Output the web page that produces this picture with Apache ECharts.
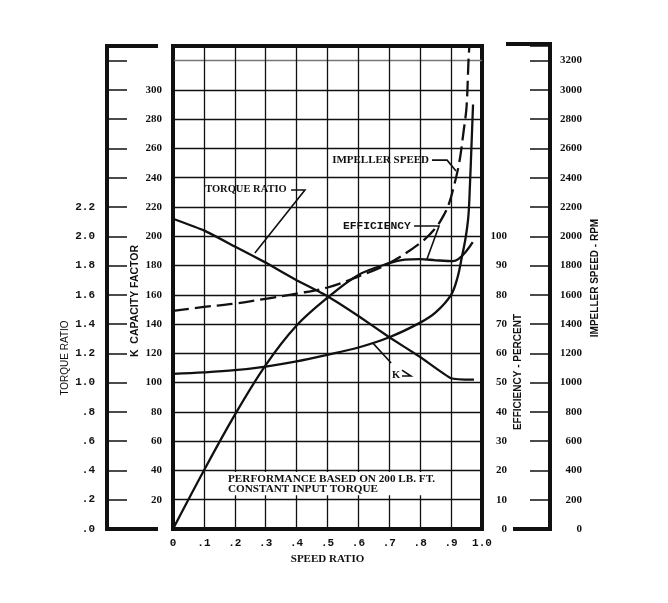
<!DOCTYPE html>
<html>
<head>
<meta charset="utf-8">
<script src="https://cdn.jsdelivr.net/npm/echarts@6/dist/echarts.min.js"></script>
<style>
html,body{margin:0;padding:0;background:#fff;}
#c{width:668px;height:603px;}
</style>
</head>
<body>
<div id="c"></div>
<script>
// ---- tick labels ----
const speedRatioLabels = ['0', '.1', '.2', '.3', '.4', '.5', '.6', '.7', '.8', '.9', '1.0'];
const torqueTickLabels = ['.0', '.2', '.4', '.6', '.8', '1.0', '1.2', '1.4', '1.6', '1.8', '2.0', '2.2'];
const kTickLabels = ['20', '40', '60', '80', '100', '120', '140', '160', '180', '200', '220', '240', '260', '280', '300'];
const effTickLabels = ['0', '10', '20', '30', '40', '50', '60', '70', '80', '90', '100'];
const rpmTickLabels = ['0', '200', '400', '600', '800', '1000', '1200', '1400', '1600', '1800', '2000', '2200', '2400', '2600', '2800', '3000', '3200'];

// ---- series values: [speed ratio, value] ----
const torqueRatio = [[0, 2.12], [0.1, 2.04], [0.2, 1.93], [0.3, 1.82], [0.4, 1.70], [0.5, 1.59], [0.6, 1.455], [0.7, 1.31], [0.8, 1.175], [0.9, 1.03], [0.974, 1.02]];
const kCapacity = [[0, 106], [0.1, 107], [0.2, 108.5], [0.3, 111], [0.4, 114.5], [0.5, 119], [0.6, 124], [0.7, 131], [0.8, 141], [0.85, 148], [0.9, 160], [0.921, 172], [0.935, 186], [0.947, 199], [0.956, 214], [0.961, 235], [0.966, 262], [0.971, 290]];
const efficiency = [[0, 0], [0.1, 20], [0.2, 39], [0.3, 56], [0.4, 69.5], [0.5, 79], [0.6, 86.8], [0.7, 90.8], [0.75, 92], [0.8, 92.2], [0.85, 91.8], [0.906, 91.5], [0.97, 98]];
const impellerSpeed = [[0, 1490], [0.1, 1517], [0.2, 1540], [0.3, 1573], [0.4, 1608], [0.5, 1650], [0.6, 1725], [0.7, 1817], [0.8, 1954], [0.85, 2057], [0.88, 2159], [0.894, 2228], [0.906, 2316], [0.926, 2499], [0.941, 2726], [0.95, 2884], [0.956, 3184], [0.959, 3300]];

const INK = '#111';
const gridLineColors = [];
for (let i = 0; i < 17; i++) gridLineColors.push(i === 16 ? '#777' : INK);

const option = {
  animation: false,
  backgroundColor: '#fff',
  grid: { left: 173, right: 186, top: 46, bottom: 74, show: true, borderColor: INK, borderWidth: 4, backgroundColor: 'transparent' },
  xAxis: {
    type: 'value', min: 0, max: 1, interval: 0.1,
    axisLine: { show: false }, axisTick: { show: false },
    splitLine: { show: true, lineStyle: { color: INK, width: 1.3 } },
    axisLabel: {
      margin: 9, color: INK, fontFamily: 'Liberation Mono', fontWeight: 'bold', fontSize: 11,
      formatter: v => speedRatioLabels[Math.round(v * 10)] || ''
    },
    name: 'SPEED RATIO', nameLocation: 'middle', nameGap: 23,
    nameTextStyle: { color: INK, fontFamily: 'Liberation Serif', fontWeight: 'bold', fontSize: 11 }
  },
  yAxis: [
    { // K capacity factor
      type: 'value', min: 0, max: 330, interval: 20, position: 'left',
      axisLine: { show: false }, axisTick: { show: false },
      splitLine: { show: true, lineStyle: { color: gridLineColors, width: 1.3 } },
      axisLabel: {
        margin: 11, color: INK, fontFamily: 'Liberation Serif', fontWeight: 'bold', fontSize: 11,
        formatter: v => kTickLabels[Math.round(v / 20) - 1] || ''
      }
    },
    { // torque ratio
      type: 'value', min: 0, max: 3.3, interval: 0.2, position: 'left', offset: 66,
      axisLine: { show: true, lineStyle: { color: INK, width: 4 } },
      axisTick: { show: true, inside: true, length: 20, lineStyle: { color: INK, width: 1.5 } },
      splitLine: { show: false },
      axisLabel: {
        margin: 12, color: INK, fontFamily: 'Liberation Mono', fontWeight: 'bold', fontSize: 11,
        formatter: v => torqueTickLabels[Math.round(v / 0.2)] || ''
      }
    },
    { // efficiency
      type: 'value', min: 0, max: 165, interval: 10, position: 'right', offset: 0,
      axisLine: { show: false }, axisTick: { show: false }, splitLine: { show: false },
      axisLabel: {
        margin: 25, align: 'right', color: INK, fontFamily: 'Liberation Serif', fontWeight: 'bold', fontSize: 11,
        formatter: v => effTickLabels[Math.round(v / 10)] || ''
      }
    },
    { // impeller speed
      type: 'value', min: 0, max: 3300, interval: 200, position: 'right', offset: 68,
      axisLine: { show: true, lineStyle: { color: INK, width: 4 } },
      axisTick: { show: true, inside: true, length: 20, lineStyle: { color: INK, width: 1.5 } },
      splitLine: { show: false },
      axisLabel: {
        margin: 32, align: 'right', color: INK, fontFamily: 'Liberation Serif', fontWeight: 'bold', fontSize: 11,
        formatter: v => rpmTickLabels[Math.round(v / 200)] || ''
      }
    }
  ],
  series: [
    { name: 'Torque Ratio', type: 'line', yAxisIndex: 1, data: torqueRatio, showSymbol: false, smooth: 0.15,
      lineStyle: { color: INK, width: 2.3 }, z: 5 },
    { name: 'K Capacity Factor', type: 'line', yAxisIndex: 0, data: kCapacity, showSymbol: false, smooth: 0.35,
      lineStyle: { color: INK, width: 2.3 }, z: 5 },
    { name: 'Efficiency', type: 'line', yAxisIndex: 2, data: efficiency, showSymbol: false, smooth: 0.35,
      lineStyle: { color: INK, width: 2.3 }, z: 5 },
    { name: 'Impeller Speed', type: 'line', yAxisIndex: 3, data: impellerSpeed, showSymbol: false, smooth: 0.35,
      lineStyle: { color: INK, width: 2.3, type: [16, 6] }, z: 5 }
  ]
};

const chart = echarts.init(document.getElementById('c'));
chart.setOption(option);

// helpers: data space (speed ratio, K) to pixels
const P = (sr, k) => chart.convertToPixel({ xAxisIndex: 0, yAxisIndex: 0 }, [sr, k]);
const g = [];
function seg(pts, w) {
  g.push({ type: 'polyline', z: 20, shape: { points: pts.map(p => P(p[0], p[1])) }, style: { stroke: INK, lineWidth: w || 1.6, fill: null } });
}
function txt(s, sr, k, font, align) {
  const p = P(sr, k);
  g.push({ type: 'text', z: 21, x: p[0], y: p[1], style: { text: s, font: font, fill: INK, align: align || 'left', verticalAlign: 'middle', textAlign: align || 'left', textVerticalAlign: 'middle' } });
}
function vtxt(s, x, y, font) {
  g.push({ type: 'text', z: 21, x: x, y: y, rotation: Math.PI / 2, style: { text: s, font: font, fill: INK, align: 'center', verticalAlign: 'middle', textAlign: 'center', textVerticalAlign: 'middle' } });
}

const left0 = P(0, 0), right0 = P(1, 0), top0 = P(0, 330);
const tqX = left0[0] - 66, rpmX = right0[0] + 68;
// axis brackets
g.push({ type: 'line', z: 20, shape: { x1: tqX - 2, y1: top0[1], x2: tqX + 51, y2: top0[1] }, style: { stroke: INK, lineWidth: 4 } });
g.push({ type: 'line', z: 20, shape: { x1: tqX - 2, y1: left0[1], x2: tqX + 51, y2: left0[1] }, style: { stroke: INK, lineWidth: 4 } });
g.push({ type: 'line', z: 20, shape: { x1: rpmX - 44, y1: top0[1] - 2, x2: rpmX + 2, y2: top0[1] - 2 }, style: { stroke: INK, lineWidth: 4 } });
g.push({ type: 'line', z: 20, shape: { x1: rpmX - 37, y1: left0[1], x2: rpmX + 2, y2: left0[1] }, style: { stroke: INK, lineWidth: 4 } });

// axis titles
vtxt('TORQUE RATIO', tqX - 42, 358, '10px "Liberation Sans"');
vtxt('K  CAPACITY FACTOR', tqX + 28, 301, 'bold 10.5px "Liberation Sans"');
vtxt('EFFICIENCY - PERCENT', right0[0] + 36, 372, 'bold 10px "Liberation Sans"');
vtxt('IMPELLER SPEED - RPM', rpmX + 45, 278, 'bold 10px "Liberation Sans"');

// annotations
const annFont = 'bold 10.5px "Liberation Serif"';
txt('TORQUE RATIO', 0.104, 232.3, annFont);
seg([[0.382, 231.6], [0.427, 231.6], [0.265, 188.6]]);
txt('IMPELLER SPEED', 0.515, 252, 'bold 11px "Liberation Serif"');
seg([[0.838, 252], [0.887, 252], [0.916, 244.6]]);
txt('EFFICIENCY', 0.55, 207, 'bold 11.3px "Liberation Mono"');
seg([[0.78, 207], [0.861, 207], [0.822, 184.5]]);
txt('K', 0.709, 105, annFont);
seg([[0.647, 127], [0.706, 113.4]]);
seg([[0.741, 108.6], [0.77, 104.5], [0.741, 104.5]]);

// note box
const b1 = P(0.165, 39), b2 = P(0.87, 23);
g.push({ type: 'rect', z: 19, shape: { x: b1[0], y: b1[1], width: b2[0] - b1[0], height: b2[1] - b1[1] }, style: { fill: '#fff' } });
txt('PERFORMANCE BASED ON 200 LB. FT.', 0.178, 34.0, 'bold 11.2px "Liberation Serif"');
txt('CONSTANT INPUT TORQUE', 0.178, 27.2, 'bold 11.2px "Liberation Serif"');

chart.setOption({ graphic: g });
</script>
</body>
</html>
